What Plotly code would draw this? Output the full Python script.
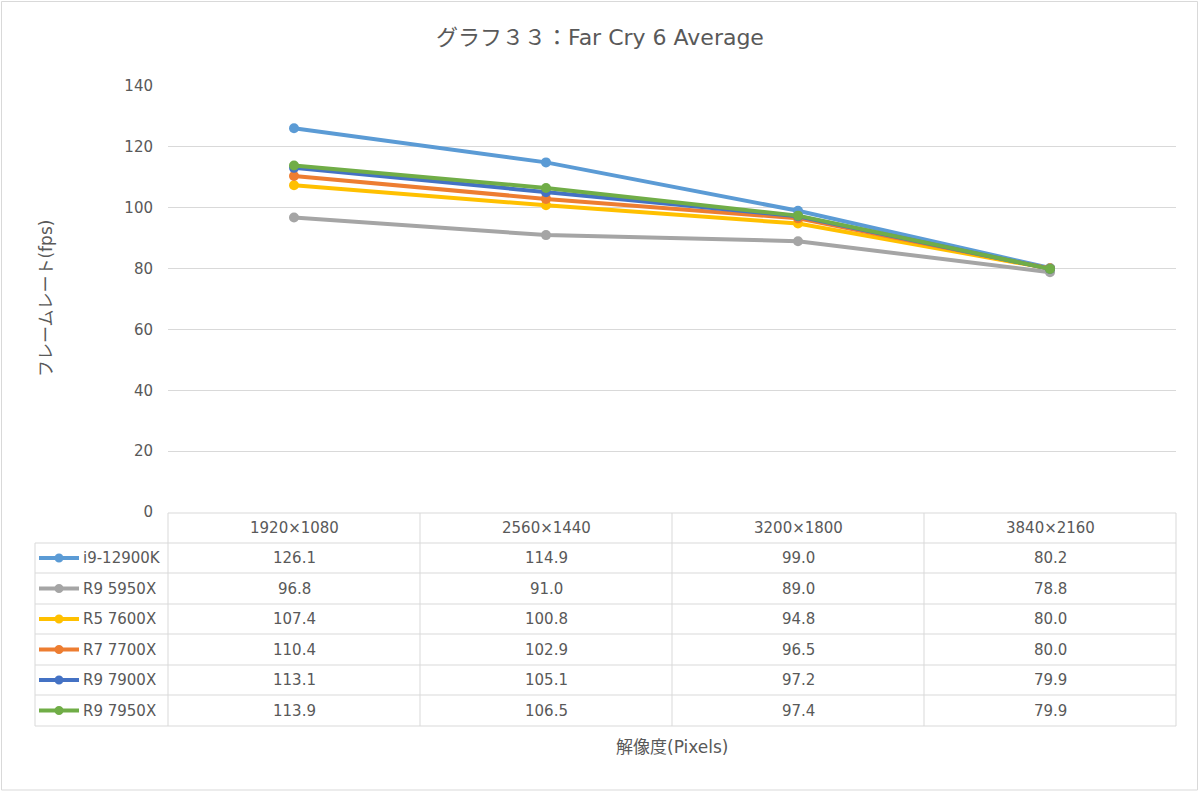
import plotly.graph_objects as go

categories = ["1920×1080", "2560×1440", "3200×1800", "3840×2160"]
series_names = ["i9-12900K", "R9 5950X", "R5 7600X", "R7 7700X", "R9 7900X", "R9 7950X"]
i9_12900k = [126.1, 114.9, 99.0, 80.2]
r9_5950x = [96.8, 91.0, 89.0, 78.8]
r5_7600x = [107.4, 100.8, 94.8, 80.0]
r7_7700x = [110.4, 102.9, 96.5, 80.0]
r9_7900x = [113.1, 105.1, 97.2, 79.9]
r9_7950x = [113.9, 106.5, 97.4, 79.9]
series_values = [i9_12900k, r9_5950x, r5_7600x, r7_7700x, r9_7900x, r9_7950x]
colors = ["#5B9BD5", "#A5A5A5", "#FFC000", "#ED7D31", "#4472C4", "#70AD47"]
y_ticks = [0, 20, 40, 60, 80, 100, 120, 140]

W, H = 1200, 793
L, R, T, B = 168, 1176, 86, 512
FONT = "DejaVu Sans, Noto Sans CJK JP, sans-serif"
TXT = "#595959"
GRID = "#D9D9D9"

def px(x):
    return (x - L) / (R - L)

def py(y):
    return (B - y) / (B - T)

fig = go.Figure()
for name, vals, c in zip(series_names, series_values, colors):
    fig.add_trace(go.Scatter(
        x=list(range(len(categories))), y=vals, name=name, mode="lines+markers",
        line=dict(color=c, width=4), marker=dict(color=c, size=10),
        showlegend=False, hoverinfo="y+name"))

shapes = []
annotations = []
row_edges = [513, 543, 573, 604, 634, 665, 695, 726]
col_edges = [L + i * (R - L) / len(categories) for i in range(len(categories) + 1)]
leg_left = 35

def line(x0, y0, x1, y1, color=GRID, width=1):
    shapes.append(dict(type="line", xref="paper", yref="paper",
                       x0=px(x0), y0=py(y0), x1=px(x1), y1=py(y1),
                       line=dict(color=color, width=width), layer="below"))

def text(x, y, s, size=15, xanchor="center", angle=0):
    annotations.append(dict(x=px(x), y=py(y), xref="paper", yref="paper", text=s,
                            showarrow=False, xanchor=xanchor, yanchor="middle",
                            textangle=angle, font=dict(size=size, color=TXT, family=FONT)))

line(L, row_edges[0], R, row_edges[0])
for ye in row_edges[1:]:
    line(leg_left, ye, R, ye)
line(leg_left, row_edges[1], leg_left, row_edges[-1])
for xe in col_edges:
    line(xe, row_edges[0], xe, row_edges[-1])

for i, cat in enumerate(categories):
    text((col_edges[i] + col_edges[i + 1]) / 2, (row_edges[0] + row_edges[1]) / 2, cat)

for r, (name, vals, c) in enumerate(zip(series_names, series_values, colors)):
    yc = (row_edges[r + 1] + row_edges[r + 2]) / 2
    for i, v in enumerate(vals):
        text((col_edges[i] + col_edges[i + 1]) / 2, yc, f"{v:.1f}")
    shapes.append(dict(type="line", xref="paper", yref="paper",
                       x0=px(39), y0=py(yc), x1=px(79), y1=py(yc),
                       line=dict(color=c, width=4)))
    rr = 4.5
    shapes.append(dict(type="circle", xref="paper", yref="paper",
                       x0=px(59 - rr), y0=py(yc - rr), x1=px(59 + rr), y1=py(yc + rr),
                       fillcolor=c, line=dict(color=c, width=0)))
    text(81, yc, name, xanchor="left")

shapes.append(dict(type="rect", xref="paper", yref="paper",
                   x0=px(1.5), y0=py(1.5), x1=px(1197.5), y1=py(790),
                   line=dict(color="#D9D9D9", width=1), layer="below"))

text(46, (T + B) / 2, "フレームレート(fps)", size=17, angle=-90)
text((L + R) / 2, 747, "解像度(Pixels)", size=17)
text(600, 37, "グラフ３３：Far Cry 6 Average", size=22)

fig.update_layout(
    width=W, height=H,
    margin=dict(l=L, r=W - R, t=T, b=H - B, pad=0),
    paper_bgcolor="white", plot_bgcolor="white",
    font=dict(family=FONT, color=TXT),
    xaxis=dict(range=[-0.5, len(categories) - 0.5], showgrid=False, showticklabels=False,
               zeroline=False, showline=False, fixedrange=True),
    yaxis=dict(range=[0, 140], tickvals=y_ticks, showgrid=True, gridcolor=GRID, gridwidth=1,
               zeroline=False, showline=False, tickfont=dict(size=15, color=TXT, family=FONT),
               ticklabelstandoff=14, fixedrange=True),
    shapes=shapes, annotations=annotations,
)

fig.write_html("out.html", config={"displayModeBar": False},
               post_script="document.body.style.margin='0';")
